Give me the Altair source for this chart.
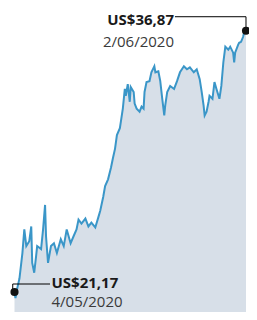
import altair as alt
import pandas as pd

# Time (days since 4/05/2020) and price (US$)
days = [0.00, 0.12, 0.37, 0.62, 0.99, 1.23, 1.48, 1.85, 2.10, 2.22, 2.47, 2.71, 2.84, 3.33, 3.58,
        3.83, 3.95, 4.20, 4.57, 4.94, 5.31, 5.80, 6.17, 6.54, 7.03, 7.40, 7.77, 8.02, 8.39, 8.88,
        9.26, 9.63, 10.12, 10.49, 10.74, 11.11, 11.35, 11.72, 12.09, 12.34, 12.59, 12.83, 13.20,
        13.33, 13.57, 13.82, 13.94, 14.19, 14.44, 14.56, 14.93, 15.05, 15.30, 15.67, 15.92, 16.17,
        16.29, 16.54, 16.91, 17.15, 17.52, 17.65, 18.02, 18.26, 18.51, 18.76, 18.88, 19.13, 19.50,
        19.99, 20.36, 20.73, 21.22, 21.60, 21.97, 22.46, 22.83, 23.20, 23.45, 23.69, 23.82, 24.06,
        24.31, 24.43, 24.80, 25.05, 25.30, 25.67, 25.91, 26.16, 26.41, 26.78, 27.02, 27.39, 27.52,
        27.64, 28.01, 28.14, 28.38, 28.63, 28.75, 29.00]
prices = [21.17, 20.80, 21.45, 21.98, 23.51, 24.93, 23.93, 24.22, 25.11, 22.92, 22.33, 23.34, 23.93,
          23.75, 24.93, 26.40, 24.52, 22.92, 23.93, 24.10, 23.51, 24.34, 23.93, 24.93, 24.10, 24.52,
          24.93, 25.52, 25.28, 25.58, 25.11, 25.34, 25.05, 25.64, 26.05, 26.88, 27.53, 27.94, 28.65,
          29.24, 29.77, 30.60, 31.01, 31.42, 32.19, 33.37, 32.96, 33.66, 32.60, 33.49, 33.19, 32.49,
          32.19, 32.01, 32.31, 32.19, 33.19, 33.78, 33.84, 34.37, 34.73, 34.37, 34.43, 33.84, 32.78,
          31.78, 32.37, 33.19, 33.55, 33.37, 33.84, 34.37, 34.73, 34.55, 34.67, 34.37, 34.55, 33.96,
          33.19, 32.37, 31.78, 32.01, 32.60, 32.96, 32.78, 33.78, 33.37, 32.78, 33.55, 34.96, 35.91,
          35.73, 35.91, 35.55, 34.96, 35.55, 36.02, 36.14, 36.20, 36.49, 36.73, 36.87]

value_labels = ["US$21,17", "US$36,87"]
date_labels = ["4/05/2020", "2/06/2020"]

n = min(len(days), len(prices))
df = pd.DataFrame({"t": days[:n], "p": prices[:n]})

ends = pd.DataFrame({
    "t": [days[0], days[n - 1]],
    "p": [prices[0], prices[n - 1]],
    "val": value_labels,
    "date": date_labels,
})

# leader lines (data units)
lead = pd.DataFrame({
    "t": [-0.22, -0.22, 4.45, 29.0, 29.0, 20.1],
    "p": [prices[0], 21.65, 21.65, prices[n - 1], 37.71, 37.71],
    "g": ["a", "a", "a", "b", "b", "b"],
    "o": [0, 1, 2, 0, 1, 2],
})

xs = alt.Scale(domain=[-0.814, 29.376], nice=False, zero=False)
ys = alt.Scale(domain=[19.968, 38.234], nice=False, zero=False)
X = alt.X("t:Q", scale=xs, axis=None)
Y = alt.Y("p:Q", scale=ys, axis=None)

area = alt.Chart(df).mark_area(color="#d7dfe8", clip=True).encode(x=X, y=Y)
line = alt.Chart(df).mark_line(color="#3a96c8", strokeWidth=2, clip=True).encode(x=X, y=Y)

leaders = alt.Chart(lead).mark_line(color="#000000", strokeWidth=1).encode(
    x=X, y=Y, detail="g:N", order="o:Q")

dots = alt.Chart(ends).mark_point(filled=True, size=66, color="#111111", opacity=1).encode(x=X, y=Y)

font = "Open Sans"
start = ends.iloc[[0]]
end = ends.iloc[[1]]

s_val = alt.Chart(start).mark_text(font=font, fontSize=15, fontWeight="bold", color="#1a1a1a",
                                   align="left", baseline="alphabetic", dx=37, dy=-4).encode(
    x=X, y=Y, text="val:N")
s_date = alt.Chart(start).mark_text(font=font, fontSize=15, color="#3a3a3a",
                                    align="left", baseline="alphabetic", dx=37, dy=15).encode(
    x=X, y=Y, text="date:N")
e_val = alt.Chart(end).mark_text(font=font, fontSize=15, fontWeight="bold", color="#1a1a1a",
                                 align="right", baseline="alphabetic", dx=-72, dy=-6).encode(
    x=X, y=Y, text="val:N")
e_date = alt.Chart(end).mark_text(font=font, fontSize=15, color="#3a3a3a",
                                  align="right", baseline="alphabetic", dx=-72, dy=16).encode(
    x=X, y=Y, text="date:N")

chart = alt.layer(area, line, leaders, dots, s_val, s_date, e_val, e_date).properties(
    width=241, height=304, padding=0,
    autosize=alt.AutoSizeParams(type="none"),
).configure_view(stroke=None)

chart.save("out.html", embed_options={"renderer": "svg", "actions": False})
